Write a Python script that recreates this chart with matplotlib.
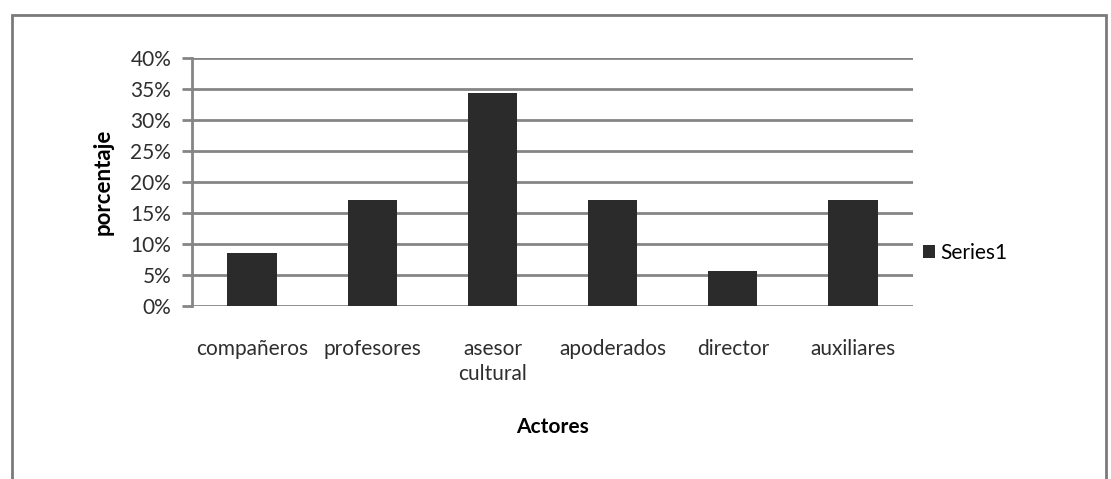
import matplotlib
matplotlib.use("Agg")
from matplotlib import pyplot as plt
from matplotlib.patches import Rectangle
from matplotlib.ticker import PercentFormatter

actores = ["compañeros", "profesores", "asesor\ncultural", "apoderados", "director", "auxiliares"]
porcentaje = [8.6, 17.1, 34.3, 17.1, 5.7, 17.1]
yticks = [0, 5, 10, 15, 20, 25, 30, 35, 40]

plt.rcParams["font.family"] = ["Lato", "DejaVu Sans"]

W, H = 1111, 479
fig = plt.figure(figsize=(W / 100, H / 100), dpi=100)

# outer frame of the chart area
fig.patches.append(Rectangle((12 / W, -0.01), (1106 - 12) / W, 1 - 15 / H + 0.01,
                             transform=fig.transFigure, fill=False,
                             edgecolor="#7a7a7a", linewidth=2))

ax = fig.add_axes([192 / W, 1 - 306 / H, (913 - 192) / W, (306 - 58) / H])
bars = ax.bar(range(len(actores)), porcentaje, width=0.41, color="#2b2b2b",
              label="Series1", zorder=3)

ax.set_xlim(-0.5, len(actores) - 0.5)
ax.set_ylim(0, 40)
ax.set_yticks(yticks)
ax.yaxis.set_major_formatter(PercentFormatter(decimals=0))
ax.yaxis.grid(True, color="#858585", linewidth=2, zorder=0)

for s in ["top", "right", "bottom"]:
    ax.spines[s].set_visible(False)
ax.spines["left"].set_color("#858585")
ax.spines["left"].set_linewidth(2)

ax.set_xticks(range(len(actores)))
ax.set_xticklabels(actores, fontsize=15, color="#2e2e2e", linespacing=1.3)
ax.tick_params(axis="x", length=0, pad=24)
ax.tick_params(axis="y", length=7, width=2, color="#858585", labelsize=15,
               labelcolor="#2e2e2e", pad=8)

ax.set_xlabel("Actores", fontsize=15, fontweight="bold", labelpad=24)
ax.set_ylabel("porcentaje", fontsize=16, fontweight="bold", labelpad=12)

ax.legend(loc="center left", bbox_to_anchor=(1.0, 0.215), frameon=False,
          fontsize=15, handlelength=0.55, handleheight=0.55, handletextpad=0.25,
          borderaxespad=0.3, borderpad=0.2)

fig.savefig("out.png", dpi=100)
